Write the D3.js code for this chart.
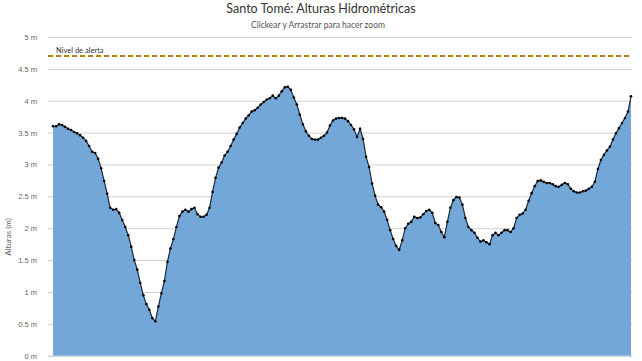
<!DOCTYPE html>
<html>
<head>
<meta charset="utf-8">
<script src="https://cdn.jsdelivr.net/npm/d3@7"></script>
<style>
  body { margin: 0; background: #fff; }
  svg { display: block; font-family: "Lato", "DejaVu Sans", sans-serif; }
</style>
</head>
<body>
<div id="chart"></div>
<script>
var width = 642,
    height = 361;

// hydrometric heights (m), one reading per point, left to right
var alturas = [
  3.60, 3.60, 3.63, 3.62, 3.59, 3.56, 3.54, 3.51, 3.49, 3.46,
  3.42, 3.37, 3.29, 3.20, 3.18, 3.09, 2.94, 2.74, 2.54, 2.32,
  2.29, 2.30, 2.24, 2.13, 2.02, 1.89, 1.71, 1.50, 1.35, 1.14,
  0.95, 0.81, 0.72, 0.59, 0.54, 0.77, 0.98, 1.17, 1.47, 1.68,
  1.83, 2.02, 2.19, 2.26, 2.29, 2.26, 2.30, 2.32, 2.22, 2.18,
  2.18, 2.21, 2.32, 2.57, 2.79, 2.95, 3.03, 3.14, 3.20, 3.29,
  3.39, 3.48, 3.58, 3.65, 3.72, 3.77, 3.83, 3.85, 3.89, 3.94,
  3.98, 4.02, 4.04, 4.08, 4.04, 4.08, 4.15, 4.21, 4.22, 4.17,
  4.05, 3.94, 3.78, 3.63, 3.52, 3.45, 3.40, 3.39, 3.39, 3.42,
  3.45, 3.50, 3.61, 3.69, 3.72, 3.73, 3.73, 3.72, 3.68, 3.62,
  3.55, 3.43, 3.56, 3.40, 3.12, 2.96, 2.70, 2.51, 2.37, 2.33,
  2.26, 2.13, 1.97, 1.83, 1.72, 1.66, 1.81, 2.00, 2.07, 2.10,
  2.18, 2.16, 2.17, 2.22, 2.27, 2.29, 2.24, 2.08, 2.05, 1.94,
  1.86, 2.10, 2.32, 2.44, 2.49, 2.48, 2.37, 2.16, 2.02, 1.97,
  1.93, 1.85, 1.79, 1.81, 1.78, 1.75, 1.89, 1.93, 1.89, 1.93,
  1.97, 1.97, 1.94, 2.00, 2.16, 2.21, 2.23, 2.29, 2.43, 2.55,
  2.66, 2.74, 2.75, 2.73, 2.71, 2.71, 2.69, 2.66, 2.65, 2.68,
  2.71, 2.69, 2.62, 2.58, 2.56, 2.56, 2.58, 2.59, 2.62, 2.65,
  2.73, 2.93, 3.07, 3.15, 3.22, 3.28, 3.39, 3.49, 3.57, 3.65,
  3.73, 3.83, 4.07
];

var yTicks = [0, 0.5, 1, 1.5, 2, 2.5, 3, 3.5, 4, 4.5, 5];
var nivelAlerta = 4.7;

var margin = {top: 37, right: 10, bottom: 5, left: 53};

var svg = d3.select("#chart").append("svg")
    .attr("width", width)
    .attr("height", height);

var x = d3.scaleLinear()
    .domain([0, alturas.length - 1])
    .range([margin.left, 631]);

var y = d3.scaleLinear()
    .domain([0, 5])
    .range([355.7, margin.top]);

// titles
svg.append("text")
    .attr("x", 321)
    .attr("y", 13)
    .attr("text-anchor", "middle")
    .style("font-size", "12.5px")
    .style("fill", "#333")
    .text("Santo Tomé: Alturas Hidrométricas");

svg.append("text")
    .attr("x", 318)
    .attr("y", 28)
    .attr("text-anchor", "middle")
    .style("font-size", "8.5px")
    .style("fill", "#555")
    .text("Clickear y Arrastrar para hacer zoom");

// grid + y labels
var yAxis = d3.axisLeft(y)
    .tickValues(yTicks)
    .tickSize(-(632 - 48))
    .tickPadding(11)
    .tickFormat(function(d) { return d + " m"; });

var ga = svg.append("g")
    .attr("transform", "translate(48,0)")
    .call(yAxis);
ga.select(".domain").remove();
ga.selectAll(".tick line")
    .attr("stroke", "#d0d0d0")
    .attr("stroke-width", 1);
ga.selectAll(".tick text")
    .style("font-size", "7.5px")
    .style("fill", "#666");

svg.append("text")
    .attr("transform", "translate(11," + 237 + ")rotate(-90)")
    .attr("text-anchor", "middle")
    .style("font-size", "8px")
    .style("fill", "#666")
    .text("Alturas (m)");

// area
var area = d3.area()
    .x(function(d, i) { return x(i); })
    .y0(y(0))
    .y1(function(d) { return y(d); });

svg.append("path")
    .datum(alturas)
    .attr("fill", "#72a7d8")
    .attr("d", area);

var line = d3.line()
    .x(function(d, i) { return x(i); })
    .y(function(d) { return y(d); });

svg.append("path")
    .datum(alturas)
    .attr("fill", "none")
    .attr("stroke", "#1b2a3a")
    .attr("stroke-width", 1.2)
    .attr("d", line);

svg.selectAll("circle.pt")
    .data(alturas)
    .enter().append("circle")
    .attr("class", "pt")
    .attr("cx", function(d, i) { return x(i); })
    .attr("cy", function(d) { return y(d); })
    .attr("r", 1.3)
    .attr("fill", "#000");

// bottom axis line
svg.append("line")
    .attr("x1", 48).attr("x2", 632)
    .attr("y1", y(0) + 0.5).attr("y2", y(0) + 0.5)
    .attr("stroke", "#c0d0e0");

// alert level
svg.append("line")
    .attr("x1", 48).attr("x2", 632)
    .attr("y1", y(nivelAlerta)).attr("y2", y(nivelAlerta))
    .attr("stroke", "#b8860b")
    .attr("stroke-width", 2)
    .attr("stroke-dasharray", "5,3");

svg.append("text")
    .attr("x", 56)
    .attr("y", y(nivelAlerta) - 3)
    .style("font-size", "7.5px")
    .style("fill", "#333")
    .text("Nivel de alerta");
</script>
</body>
</html>
